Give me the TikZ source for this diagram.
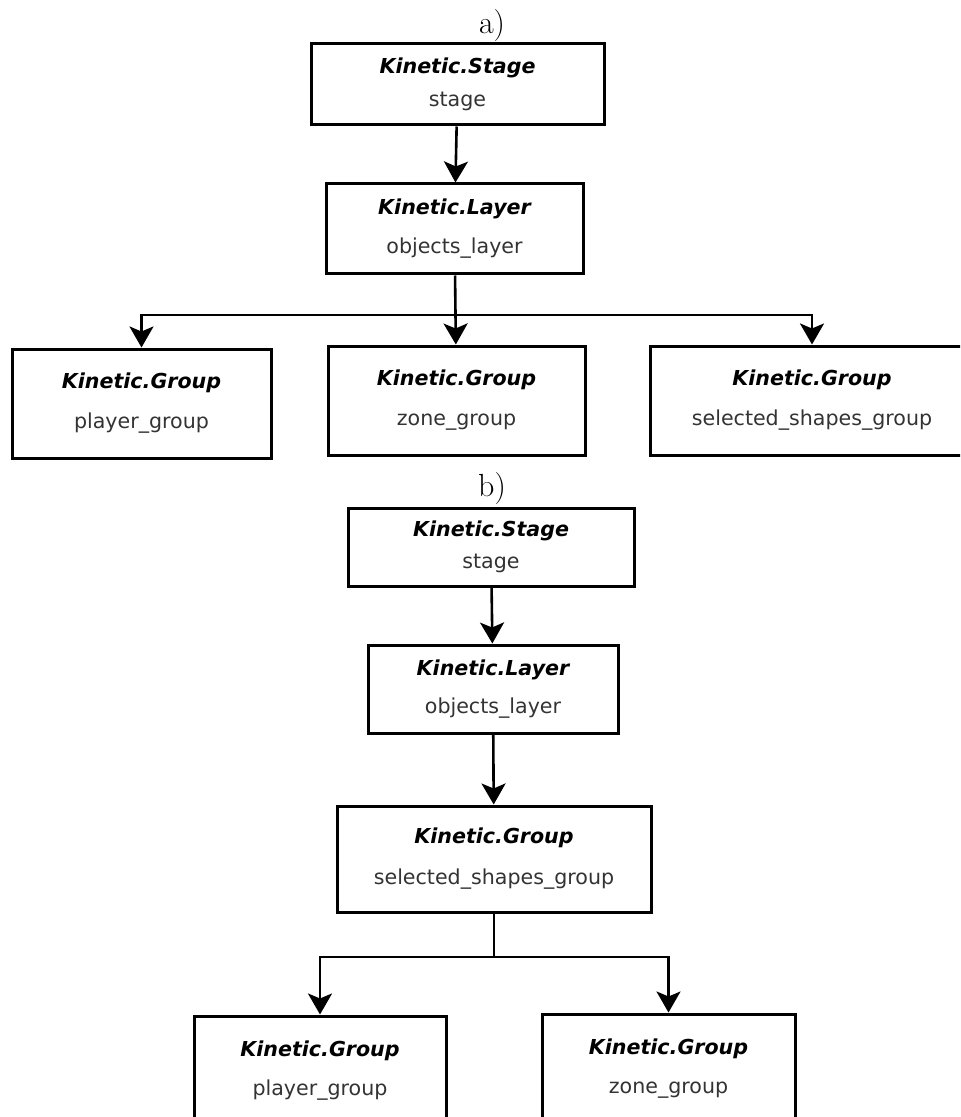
\documentclass[tikz,border=0pt]{standalone}
\usepackage{fontspec}
\newfontfamily\dejavu{DejaVu Sans}
\usetikzlibrary{arrows.meta}

\newcommand\kclass[1]{\textcolor{black}{\bfseries\itshape #1}}

\begin{document}
\begin{tikzpicture}[
  x=0.5pt, y=-0.5pt,
  box/.style={draw, line width=1.5pt, align=center, inner sep=0pt, text=black!80,
    font=\dejavu\fontsize{10.3}{12}\selectfont},
  arrow/.style={-{Stealth[length=10.5pt, width=12pt, inset=2.5pt]}, line width=1.3pt},
  link/.style={line width=1.3pt},
  tag/.style={font=\fontsize{16}{18}\selectfont}
]
\useasboundingbox (0,0) rectangle (960,1117);
\clip (0,0) rectangle (960,1117);

\node[tag] (tagA) at (492,26) {a)};
\node[box, minimum width=146.5pt, minimum height=40.5pt] (stageA) at (457.5,84.5) {\kclass{Kinetic.Stage}\\[4.5pt] stage};
\node[box, minimum width=128.5pt, minimum height=45pt] (layerA) at (454.5,229) {\kclass{Kinetic.Layer}\\[7.5pt] objects\_layer};
\node[box, minimum width=129.5pt, minimum height=54.5pt] (playerA) at (141.5,403.5) {\kclass{Kinetic.Group}\\[8pt] player\_group};
\node[box, minimum width=128.5pt, minimum height=54.5pt] (zoneA) at (456.5,400.5) {\kclass{Kinetic.Group}\\[8pt] zone\_group};
\node[box, minimum width=162pt, minimum height=54.5pt] (selA) at (812,400.5) {\kclass{Kinetic.Group}\\[8pt] selected\_shapes\_group};
\coordinate (forkA) at (455,315);

\draw[arrow] (stageA) -- (layerA);
\draw[arrow] (layerA) -- (zoneA);
\draw[arrow] (forkA) -| (playerA);
\draw[arrow] (forkA) -| (selA);

\node[tag] (tagB) at (492,489) {b)};
\node[box, minimum width=143pt, minimum height=39pt] (stageB) at (491,547) {\kclass{Kinetic.Stage}\\[4pt] stage};
\node[box, minimum width=125pt, minimum height=44pt] (layerB) at (493,689) {\kclass{Kinetic.Layer}\\[7pt] objects\_layer};
\node[box, minimum width=157pt, minimum height=53pt] (selB) at (494,859) {\kclass{Kinetic.Group}\\[8.5pt] selected\_shapes\_group};
\node[box, minimum width=126pt, minimum height=54.5pt] (playerB) at (320,1070.5) {\kclass{Kinetic.Group}\\[7.5pt] player\_group};
\node[box, minimum width=126.5pt, minimum height=54.5pt] (zoneB) at (668.5,1068.5) {\kclass{Kinetic.Group}\\[7.5pt] zone\_group};
\coordinate (forkB) at (494,957);

\draw[arrow] (stageB) -- (layerB);
\draw[arrow] (layerB) -- (selB);
\draw[link] (selB) -- (forkB);
\draw[arrow] (forkB) -| (playerB);
\draw[arrow] (forkB) -| (zoneB);
\end{tikzpicture}
\end{document}
